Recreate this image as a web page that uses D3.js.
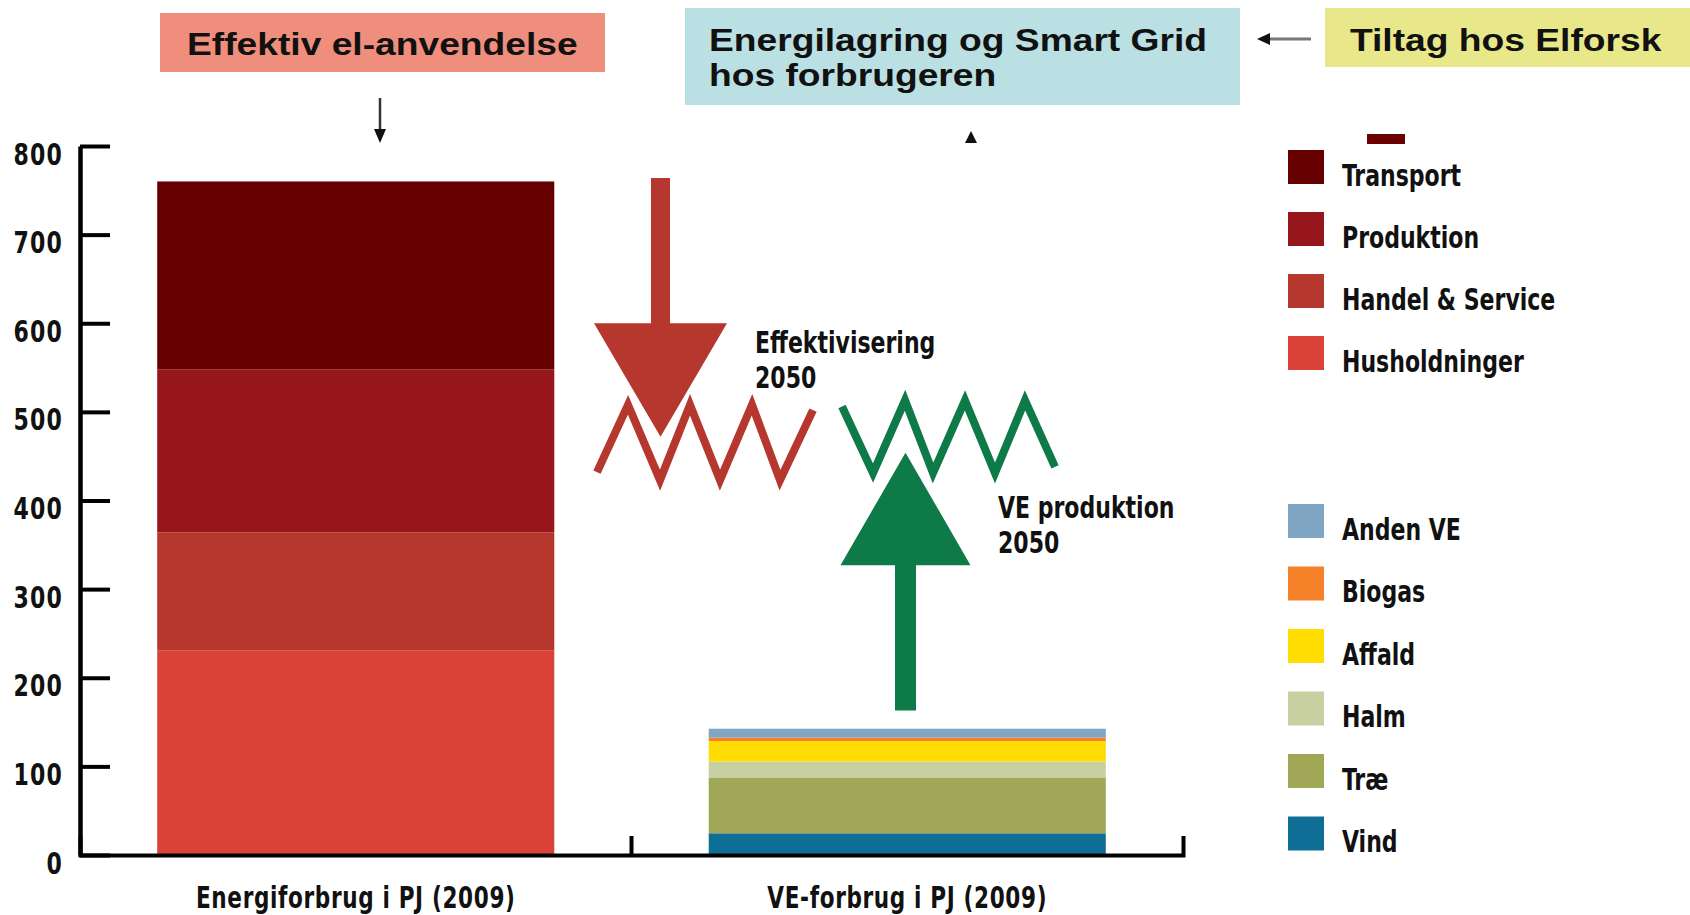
<!DOCTYPE html>
<html>
<head>
<meta charset="utf-8">
<script src="https://cdn.jsdelivr.net/npm/d3@7"></script>
<style>
  body { margin: 0; background: #fff; }
  svg text { font-family: "Liberation Sans Narrow", "DejaVu Sans Condensed", sans-serif; font-weight: bold; fill: #111; }
  svg .box text { font-family: "Liberation Sans", Arial, sans-serif; }
</style>
</head>
<body>
<svg id="chart" width="1690" height="915"></svg>
<script>
// data (PJ)
const categories = ["Energiforbrug i PJ (2009)", "VE-forbrug i PJ (2009)"];
const forbrugSeries = ["Husholdninger", "Handel & Service", "Produktion", "Transport"];
const forbrugValues = [231, 133, 184, 212];
const veSeries = ["Vind", "Træ", "Halm", "Affald", "Biogas", "Anden VE"];
const veValues = [24.5, 63, 18, 23, 4, 10];
const yTicks = [0, 100, 200, 300, 400, 500, 600, 700, 800];

const forbrugColors = ["#da4137", "#b5372e", "#96161c", "#660000"];
const veColors = ["#0f6e96", "#a0a857", "#c8cfa0", "#ffdd00", "#f58129", "#80a6c4"];

const svg = d3.select("#chart");
const SX = 0.79; // squeeze condensed font to the narrow look of the original

// scale text horizontally, keeping its anchor point
function narrow(sel, s = SX) {
  sel.each(function () {
    const t = d3.select(this);
    const x = +t.attr("x") || 0;
    t.attr("x", x / s).attr("transform", `scale(${s},1)`);
  });
}

const y = d3.scaleLinear().domain([0, 800]).range([855, 146]);
const x = d3.scaleBand().domain(categories).range([80, 1183])
  .paddingInner(0.28).paddingOuter(0.14);

// stacked bars
function stackBar(cat, series, values, colors) {
  const tops = d3.cumsum(values);
  const layers = series.map((s, i) => ({ s, lo: tops[i] - values[i], hi: tops[i], c: colors[i] }));
  svg.append("g").selectAll("rect").data(layers).join("rect")
    .attr("x", x(cat))
    .attr("width", x.bandwidth())
    .attr("y", d => y(d.hi))
    .attr("height", d => y(d.lo) - y(d.hi))
    .attr("fill", d => d.c);
}
stackBar(categories[0], forbrugSeries, forbrugValues, forbrugColors);
stackBar(categories[1], veSeries, veValues, veColors);

// y axis
const yAxis = svg.append("g").attr("transform", "translate(80,0)")
  .call(d3.axisLeft(y).tickValues(yTicks).tickSize(-30).tickSizeOuter(0).tickPadding(17));
yAxis.select(".domain").attr("stroke", "#000").attr("stroke-width", 4.5);
yAxis.selectAll(".tick line").attr("stroke", "#000").attr("stroke-width", 4);
yAxis.selectAll(".tick text").attr("font-size", 31).attr("dy", 18).attr("letter-spacing", 1.5)
  .attr("font-family", null).attr("fill", "#111").call(narrow);

// x axis
const xAxis = svg.append("g").attr("transform", "translate(0,855)")
  .call(d3.axisBottom(x).tickSizeInner(0).tickSizeOuter(-19).tickPadding(0));
xAxis.select(".domain").attr("stroke", "#000").attr("stroke-width", 4);
xAxis.selectAll(".tick text").attr("font-size", 30).attr("y", 53).attr("dy", 0)
  .attr("letter-spacing", 0.8).attr("font-family", null).attr("fill", "#111").call(narrow, 0.8);
const boundary = x(categories[1]) - x.step() * x.paddingInner() / 2;
xAxis.append("line").attr("x1", boundary).attr("x2", boundary).attr("y1", 0).attr("y2", -19)
  .attr("stroke", "#000").attr("stroke-width", 4);

// legends
function legend(series, colors, top, gap) {
  const items = series.slice().reverse().map((s, i) => ({ s, c: colors[series.length - 1 - i], i }));
  const g = svg.append("g").selectAll("g").data(items).join("g")
    .attr("transform", d => `translate(1288,${top + d.i * gap})`);
  g.append("rect").attr("width", 36).attr("height", 34).attr("fill", d => d.c);
  g.append("text").attr("x", 54).attr("y", 36).attr("font-size", 31).text(d => d.s).call(narrow);
}
legend(forbrugSeries, forbrugColors, 150, 62);
legend(veSeries, veColors, 504, 62.5);
svg.append("rect").attr("x", 1367).attr("y", 134).attr("width", 38).attr("height", 10).attr("fill", "#6b0000");

// annotation arrows and zigzags (y in PJ, x in px)
const line = d3.line().x(d => d[0]).y(d => y(d[1]));
const redZig = [[597, 432], [628, 508], [660, 423], [690, 508], [720, 423], [752, 508], [780, 423], [813, 502]];
const greenZig = [[842, 506], [873, 431], [905, 513], [933, 431], [965, 513], [995, 431], [1025, 513], [1055, 438]];
svg.append("path").attr("d", line(redZig)).attr("fill", "none").attr("stroke", "#b5372e")
  .attr("stroke-width", 8).attr("stroke-linejoin", "miter");
svg.append("path").attr("d", line(greenZig)).attr("fill", "none").attr("stroke", "#0e7a48")
  .attr("stroke-width", 8).attr("stroke-linejoin", "miter");

function bigArrow(cx, shaftEnd, headBase, tip, shaftW, headW, color) {
  const pts = [
    [cx - shaftW / 2, shaftEnd], [cx + shaftW / 2, shaftEnd],
    [cx + shaftW / 2, headBase], [cx + headW / 2, headBase],
    [cx, tip], [cx - headW / 2, headBase], [cx - shaftW / 2, headBase]
  ];
  svg.append("path").attr("d", line(pts) + "Z").attr("fill", color)
    .attr("stroke", "#fff").attr("stroke-width", 6).attr("paint-order", "stroke");
}
bigArrow(660.5, 764, 600, 472, 19, 133, "#b5372e");
bigArrow(905.5, 163, 327, 454, 21, 130, "#0e7a48");

const notes = svg.append("g").attr("font-size", 31);
notes.append("text").attr("x", 755).attr("y", 353).text("Effektivisering");
notes.append("text").attr("x", 755).attr("y", 388).text("2050");
notes.append("text").attr("x", 998).attr("y", 518).text("VE produktion");
notes.append("text").attr("x", 998).attr("y", 553).text("2050");
notes.selectAll("text").call(narrow);

// header boxes (text is stretched wide in the original)
const box = svg.append("g").attr("class", "box");
box.append("rect").attr("x", 160).attr("y", 13).attr("width", 445).attr("height", 59).attr("fill", "#ef8e7c");
box.append("text").attr("x", 187).attr("y", 55).attr("font-size", 31).text("Effektiv el-anvendelse");
box.append("rect").attr("x", 685).attr("y", 8).attr("width", 555).attr("height", 97).attr("fill", "#bae0e3");
box.append("text").attr("x", 709).attr("y", 51).attr("font-size", 31).text("Energilagring og Smart Grid");
box.append("text").attr("x", 709).attr("y", 86).attr("font-size", 31).text("hos forbrugeren");
box.append("rect").attr("x", 1325).attr("y", 8).attr("width", 365).attr("height", 59).attr("fill", "#e8e78a");
box.append("text").attr("x", 1350).attr("y", 51).attr("font-size", 31).text("Tiltag hos Elforsk");
box.selectAll("text").call(narrow, 1.2);

// small pointer arrows
svg.append("line").attr("x1", 380).attr("x2", 380).attr("y1", 98).attr("y2", 132).attr("stroke", "#333").attr("stroke-width", 2.5);
svg.append("path").attr("d", "M374,129 L386,129 L380,143 Z").attr("fill", "#111");
svg.append("path").attr("d", "M965,143 L977,143 L971,131 Z").attr("fill", "#111");
svg.append("line").attr("x1", 1311).attr("x2", 1268).attr("y1", 39).attr("y2", 39).attr("stroke", "#777").attr("stroke-width", 3);
svg.append("path").attr("d", "M1270,33 L1270,45 L1257,39 Z").attr("fill", "#111");
</script>
</body>
</html>
